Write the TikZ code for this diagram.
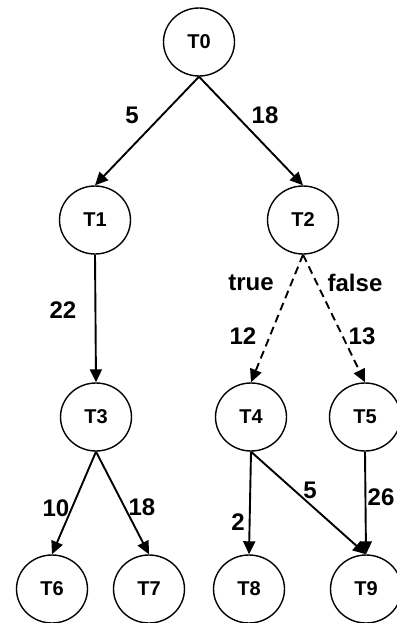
\documentclass[tikz,border=0pt]{standalone}
\usepackage{fontspec}
\setmainfont{Liberation Sans}
\usetikzlibrary{shapes.geometric,arrows.meta}
\begin{document}
\begin{tikzpicture}[x=1pt,y=-1pt,
  task/.style={ellipse,draw,line width=1.4pt,minimum width=71pt,minimum height=68pt,inner sep=0pt,
    font=\fontsize{20}{24}\selectfont\bfseries},
  edge/.style={line width=1.9pt,-{Triangle[length=13pt,width=12pt]}},
  cond/.style={edge,dash pattern=on 8pt off 5pt},
  lbl/.style={inner sep=0pt,font=\fontsize{24}{28}\selectfont\bfseries}]
\useasboundingbox (0,0) rectangle (396,623);
\node[task] (T0) at (199,42) {T0};
\node[task] (T1) at (95,220) {T1};
\node[task] (T2) at (303,220) {T2};
\node[task] (T3) at (96,417) {T3};
\node[task] (T4) at (251,417) {T4};
\node[task] (T5) at (365,417) {T5};
\node[task] (T6) at (52,589) {T6};
\node[task] (T7) at (149,589) {T7};
\node[task] (T8) at (249,589) {T8};
\node[task] (T9) at (366,589) {T9};
\draw[edge] (T0.south) -- (T1.north);
\draw[edge] (T0.south) -- (T2.north);
\draw[edge] (T1.south) -- (T3.north);
\draw[cond] (T2.south) -- (T4.north);
\draw[cond] (T2.south) -- (T5.north);
\draw[edge] (T3.south) -- (T6.north);
\draw[edge] (T3.south) -- (T7.north);
\draw[edge] (T4.south) -- (T8.north);
\draw[edge] (T4.south) -- (T9.north);
\draw[edge] (T5.south) -- (T9.north);
\node[lbl] (l01) at (132,115) {5};
\node[lbl] (l02) at (265,115) {18};
\node[lbl] (l13) at (63,310) {22};
\node[lbl] (ltrue) at (251,283) {true};
\node[lbl] (lfalse) at (355,283) {false};
\node[lbl] (l24) at (243,336) {12};
\node[lbl] (l25) at (362,336) {13};
\node[lbl] (l36) at (56,508) {10};
\node[lbl] (l37) at (142,507) {18};
\node[lbl] (l49) at (310,490) {5};
\node[lbl] (l59) at (381,497) {26};
\node[lbl] (l48) at (238,522) {2};
\end{tikzpicture}
\end{document}
